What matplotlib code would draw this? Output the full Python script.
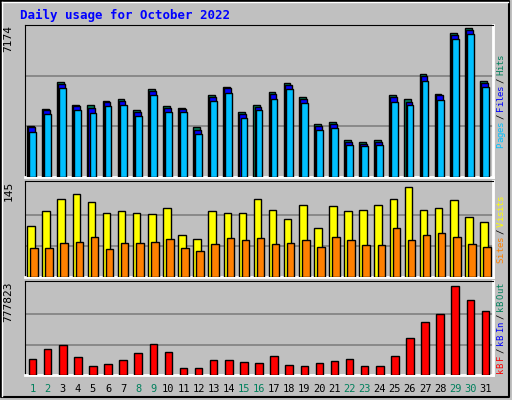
import numpy as np
import matplotlib.pyplot as plt

days = list(range(1, 32))
# values
hits = [2430, 3230, 4500, 3420, 3380, 3610, 3660, 3140, 4150, 3330, 3280, 2340, 3850, 4270, 3070, 3400,
        4010, 4440, 3780, 2520, 2600, 1750, 1660, 1750, 3850, 3660, 4860, 3940, 6780, 7020, 4530]
files = [2340, 3140, 4400, 3330, 3280, 3520, 3610, 3050, 4060, 3280, 3230, 2240, 3760, 4180, 2980, 3300,
         3920, 4350, 3690, 2430, 2520, 1660, 1560, 1660, 3760, 3560, 4770, 3850, 6680, 6920, 4440]
pages = [2140, 2950, 4200, 3140, 3000, 3330, 3420, 2860, 3850, 3090, 3050, 2050, 3570, 3950, 2800, 3140,
         3700, 4150, 3500, 2240, 2330, 1520, 1470, 1520, 3560, 3420, 4550, 3620, 6490, 6730, 4250]
visits = [80, 103, 122, 129, 117, 100, 103, 100, 98, 108, 66, 59, 102, 100, 100, 122, 105, 91, 112, 77,
          111, 102, 105, 112, 122, 140, 105, 108, 120, 94, 86]
sites = [45, 45, 53, 54, 62, 44, 53, 53, 54, 59, 45, 40, 51, 60, 57, 60, 51, 53, 57, 46, 62, 57, 50, 50,
         77, 57, 65, 68, 63, 51, 46]
kbf = [135000, 225000, 258000, 151000, 77000, 94000, 127000, 184000, 266000, 200000, 61000, 61000, 127000,
       127000, 110000, 102000, 160000, 86000, 77000, 102000, 118000, 135000, 77000, 77000, 160000, 319000,
       452000, 520000, 757000, 640000, 548000]
weekend = [1, 2, 8, 9, 15, 16, 22, 23, 29, 30]

W, H = 512, 400
fig = plt.figure(figsize=(W / 100, H / 100), dpi=100)
fig.patch.set_facecolor('#C0C0C0')
bg = fig.add_axes([0, 0, 1, 1])
bg.set_xlim(0, W); bg.set_ylim(H, 0); bg.axis('off')
bg.plot([1, W - 3, W - 3, 1, 1], [1, 1, H - 3, H - 3, 1], color='black', lw=1.5)
bg.plot([2, W - 4], [2, 2], color='white', lw=1)
bg.plot([2, 2], [2, H - 4], color='white', lw=1)
bg.text(20, 15, 'Daily usage for October 2022', color='#0000FF', fontsize=9, fontweight='bold',
        family='DejaVu Sans Mono', va='center')

def panel(top, bot):
    ax = fig.add_axes([25 / W, 1 - bot / H, 468 / W, (bot - top) / H])
    ax.set_facecolor('#C0C0C0')
    ax.set_xlim(0.5, 31.5)
    ax.set_xticks([]); ax.set_yticks([])
    ax.spines['bottom'].set_color('white')
    ax.spines['right'].set_color('white')
    ax.spines['bottom'].set_linewidth(2); ax.spines['right'].set_linewidth(2)
    return ax

x = np.array(days)
kw = dict(edgecolor='black', linewidth=1, zorder=3)

ax1 = panel(25, 177)
ax1.set_ylim(0, 7174 * 1.0)
for g in [7174 / 3, 7174 * 2 / 3]:
    ax1.axhline(g, color='#808080', lw=1.2, zorder=1)
ax1.bar(x - 0.14, hits, 0.45, color='#00805C', **kw)
ax1.bar(x - 0.07, files, 0.45, color='#0000FF', **kw)
ax1.bar(x + 0.0, pages, 0.45, color='#00C0FF', **kw)

ax2 = panel(181, 277)
ax2.set_ylim(0, 145 * 1.03)
for g in [145 / 3, 145 * 2 / 3]:
    ax2.axhline(g, color='#808080', lw=1.2, zorder=1)
ax2.bar(x - 0.1, visits, 0.5, color='#FFFF00', **kw)
ax2.bar(x + 0.1, sites, 0.5, color='#FF8000', **kw)

ax3 = panel(281, 375)
ax3.set_ylim(0, 777823 * 1.03)
for g in [777823 / 3, 777823 * 2 / 3]:
    ax3.axhline(g, color='#808080', lw=1.2, zorder=1)
ax3.bar(x, kbf, 0.5, color='#FF0000', **kw)

for ax, lab in [(ax1, '7174'), (ax2, '145'), (ax3, '777823')]:
    ax.text(-0.025, 1.0, lab, transform=ax.transAxes, rotation=90, ha='right', va='top',
            fontsize=8, family='DejaVu Sans Mono')

for d in days:
    bg.text(25 + (d - 0.5) * 468 / 31, 389, str(d), ha='center', va='center', fontsize=7.5,
            family='DejaVu Sans Mono', color='#00805C' if d in weekend else 'black')

def rlabel(yc, parts):
    chars = [(ch, col) for txt, col in parts for ch in txt]
    steps = [2.5 if ch == ' ' else 5.2 for ch, _ in chars]
    y = yc + sum(steps) / 2
    for (ch, col), st in zip(chars, steps):
        y -= st / 2
        if ch != ' ':
            bg.text(501, y, ch, rotation=90, ha='center', va='center', fontsize=6.5,
                    family='DejaVu Sans Mono', color=col)
        y -= st / 2

rlabel(101, [('Pages', '#00C0FF'), (' / ', 'black'), ('Files', '#0000FF'), (' / ', 'black'), ('Hits', '#00805C')])
rlabel(229, [('Sites', '#FF8000'), (' / ', 'black'), ('Visits', '#FFFF00')])
rlabel(328, [('kB F', '#FF0000'), (' / ', 'black'), ('kB In', '#0000FF'), (' / ', 'black'), ('kB Out', '#00805C')])

fig.savefig('out.png', dpi=100, facecolor=fig.get_facecolor())
